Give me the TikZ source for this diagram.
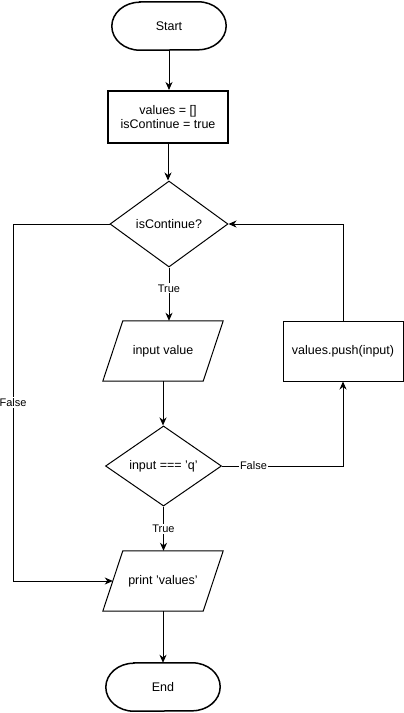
\documentclass[tikz,border=0pt]{standalone}
\usepackage{fontspec}
\setmainfont{Liberation Sans}
\usetikzlibrary{shapes.geometric,arrows.meta}
\begin{document}
\begin{tikzpicture}[x=1pt,y=-1pt,
  every node/.style={font=\fontsize{12.5}{14}\selectfont},
  term/.style={minimum width=114pt, minimum height=48pt, inner sep=0pt},
  procbox/.style={draw, line width=1pt, minimum width=120pt, minimum height=60pt, inner sep=0pt, align=center},
  thickbox/.style={procbox, line width=2pt, minimum height=52pt},
  decision/.style={draw, diamond, line width=1pt, inner sep=0pt},
  iobox/.style={minimum width=100pt, minimum height=60pt, inner sep=0pt},
  ioshape/.style={line width=1pt, line join=miter},
  termshape/.style={line width=1.5pt},
  conn/.style={line width=1pt, -{Stealth[length=8pt,width=7pt,inset=2.5pt]}},
  lbl/.style={fill=white, inner sep=1pt, font=\fontsize{11}{13}\selectfont}
]
\useasboundingbox (0,0) rectangle (404,713);

\node[term] (start) at (169,26) {Start};
\node[thickbox] (init) at (168,117) {values = []\\isContinue = true};
\node[decision, minimum width=118pt, minimum height=86pt] (d1) at (169,224) {isContinue?};
\node[iobox] (inp) at (163,351) {input value};
\node[decision, minimum width=116pt, minimum height=80pt] (d2) at (163.5,466) {input === 'q'};
\node[procbox] (push) at (343,351) {values.push(input)};
\node[iobox] (prt) at (163,581) {print 'values'};
\node[term] (end) at (163,687) {End};

\foreach \t in {start,end}{
  \draw[termshape] ([xshift=28pt]\t.north west) -- ([xshift=-28pt]\t.north east)
    arc[start angle=90, end angle=-90, x radius=28pt, y radius=24pt]
    -- ([xshift=28pt]\t.south west)
    arc[start angle=270, end angle=90, x radius=28pt, y radius=24pt] -- cycle;
}

\draw[ioshape] ([xshift=10pt]inp.north west) -- ([xshift=10pt]inp.north east) -- ([xshift=-10pt]inp.south east) -- ([xshift=-10pt]inp.south west) -- cycle;
\draw[ioshape] ([xshift=10pt]prt.north west) -- ([xshift=10pt]prt.north east) -- ([xshift=-10pt]prt.south east) -- ([xshift=-10pt]prt.south west) -- cycle;

\coordinate (lc) at (13,224);

\draw[conn] (start.south) -- (start.south |- init.north);
\draw[conn] (init.south) -- (init.south |- d1.north);
\draw[conn] (d1.south) -- node[lbl, pos=0.39] {True} (d1.south |- inp.north);
\draw[conn] (inp.south) -- (inp.south |- d2.north);
\draw[conn] (d2.south) -- node[lbl, pos=0.5] {True} (d2.south |- prt.north);
\draw[conn] (prt.south) -- (end.north);
\draw[conn] (d2.east) -| node[lbl, pos=0.13] {False} (push.south);
\draw[conn] (push.north) |- (d1.east);
\draw[conn] (d1.west) -- (lc) |- node[lbl, pos=0.25] {False} (prt.west);
\end{tikzpicture}
\end{document}
